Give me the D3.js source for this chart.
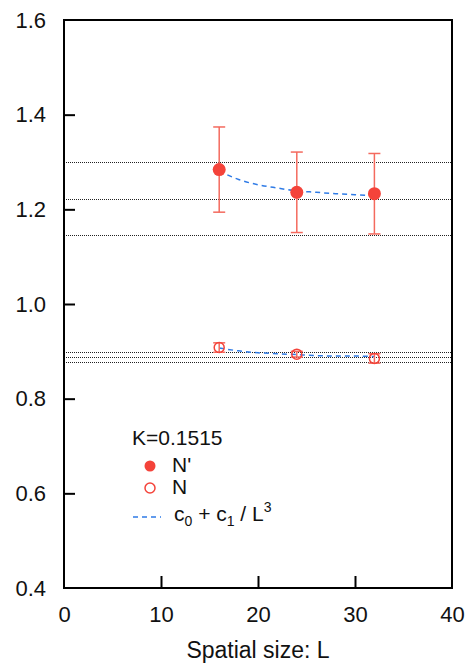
<!DOCTYPE html>
<html>
<head>
<meta charset="utf-8">
<script src="https://cdn.jsdelivr.net/npm/d3@7"></script>
<style>
  html, body { margin: 0; padding: 0; background: #fff; }
  svg { display: block; font-family: "Liberation Sans", Arial, Helvetica, sans-serif; }
</style>
</head>
<body>
<svg id="chart" width="470" height="664"></svg>
<script>
// ---- data ----
const sizesL = [16, 24, 32];
const nPrimeValues = [1.284, 1.236, 1.233];
const nPrimeErrors = [0.090, 0.085, 0.085];
const nValues = [0.908, 0.894, 0.885];
const nErrors = [0.010, 0.006, 0.010];
const fitL = [16, 18, 20, 22, 24, 26, 28, 30, 32];
const fitNPrime = [1.281, 1.263, 1.252, 1.245, 1.239, 1.236, 1.233, 1.231, 1.229];
const fitN = [0.907, 0.901, 0.897, 0.895, 0.893, 0.891, 0.890, 0.890, 0.889];
const bandNPrime = [1.300, 1.222, 1.145];
const bandN = [0.899, 0.887, 0.877];
const xTicks = [0, 10, 20, 30, 40];
const yTicks = [0.4, 0.6, 0.8, 1.0, 1.2, 1.4, 1.6];
const legendTitle = "K=0.1515";
const xTitle = "Spatial size: L";

// ---- layout ----
const svg = d3.select("#chart");
const mL = 64, mR = 452, mT = 20, mB = 588;
const x = d3.scaleLinear().domain([0, 40]).range([mL, mR]);
const y = d3.scaleLinear().domain([0.4, 1.6]).range([mB, mT]);
const red = "#f4433a", errRed = "#f46a5e", blue = "#2f7be6";

// dotted reference lines
const bands = svg.append("g");
[...bandNPrime, ...bandN].forEach(v => {
  bands.append("line")
    .attr("x1", mL + 2).attr("x2", mR - 1)
    .attr("y1", Math.round(y(v)) + 0.5).attr("y2", Math.round(y(v)) + 0.5)
    .attr("stroke", "#222").attr("stroke-width", 1)
    .attr("stroke-dasharray", "1,1");
});

// fit lines
const line = d3.line().x(d => x(d[0])).y(d => y(d[1])).curve(d3.curveMonotoneX);
[fitNPrime, fitN].forEach(arr => {
  svg.append("path")
    .attr("d", line(fitL.map((l, i) => [l, arr[i]])))
    .attr("fill", "none").attr("stroke", blue).attr("stroke-width", 1.5)
    .attr("stroke-dasharray", "5,4");
});

// error bars
function errorBars(vals, errs) {
  const g = svg.append("g").attr("stroke", errRed).attr("stroke-width", 1.5);
  sizesL.forEach((l, i) => {
    const cx = x(l);
    g.append("line").attr("x1", cx).attr("x2", cx)
      .attr("y1", y(vals[i] - errs[i])).attr("y2", y(vals[i] + errs[i]));
    [vals[i] - errs[i], vals[i] + errs[i]].forEach(v => {
      g.append("line").attr("x1", cx - 6).attr("x2", cx + 6)
        .attr("y1", y(v)).attr("y2", y(v));
    });
  });
}
errorBars(nPrimeValues, nPrimeErrors);
errorBars(nValues, nErrors);

// markers
svg.append("g").selectAll("circle").data(sizesL).join("circle")
  .attr("cx", d => x(d)).attr("cy", (d, i) => y(nPrimeValues[i]))
  .attr("r", 6.5).attr("fill", red);
svg.append("g").selectAll("circle").data(sizesL).join("circle")
  .attr("cx", d => x(d)).attr("cy", (d, i) => y(nValues[i]))
  .attr("r", 5).attr("fill", "none").attr("stroke", red).attr("stroke-width", 1.5);

// axes frame
svg.append("rect")
  .attr("x", mL).attr("y", mT).attr("width", mR - mL).attr("height", mB - mT)
  .attr("fill", "none").attr("stroke", "#000").attr("stroke-width", 2);

// y axis
const yAxis = d3.axisLeft(y).tickValues(yTicks).tickSizeInner(-11).tickSizeOuter(0)
  .tickPadding(18).tickFormat(d3.format(".1f"));
const gy = svg.append("g").attr("transform", `translate(${mL},0)`).call(yAxis);
gy.select(".domain").remove();
gy.selectAll(".tick line").attr("stroke", "#000").attr("stroke-width", 2)
  .filter(d => d === 0.4 || d === 1.6).remove();
gy.selectAll(".tick text").attr("font-size", 22).attr("fill", "#111")
  .attr("font-family", "Liberation Sans, Arial, sans-serif");

// x axis
const xAxis = d3.axisBottom(x).tickValues(xTicks).tickSizeInner(-12).tickSizeOuter(0)
  .tickPadding(18).tickFormat(d3.format("d"));
const gx = svg.append("g").attr("transform", `translate(0,${mB})`).call(xAxis);
gx.select(".domain").remove();
gx.selectAll(".tick line").attr("stroke", "#000").attr("stroke-width", 2)
  .filter(d => d === 0 || d === 40).remove();
gx.selectAll(".tick text").attr("font-size", 22).attr("fill", "#111")
  .attr("font-family", "Liberation Sans, Arial, sans-serif");

// x title
svg.append("text").attr("x", (mL + mR) / 2).attr("y", 658)
  .attr("text-anchor", "middle").attr("font-size", 23).attr("fill", "#111")
  .text(xTitle);

// legend
const lg = svg.append("g").attr("fill", "#111").attr("font-size", 21);
lg.append("text").attr("x", 132).attr("y", 445).text(legendTitle);
lg.append("circle").attr("cx", 150).attr("cy", 466).attr("r", 5.5).attr("fill", red);
lg.append("text").attr("x", 172).attr("y", 472).text("N'");
lg.append("circle").attr("cx", 150).attr("cy", 488).attr("r", 5).attr("fill", "none")
  .attr("stroke", red).attr("stroke-width", 1.5);
lg.append("text").attr("x", 172).attr("y", 494).text("N");
lg.append("line").attr("x1", 133).attr("x2", 161).attr("y1", 517).attr("y2", 517)
  .attr("stroke", blue).attr("stroke-width", 1.5).attr("stroke-dasharray", "5,4");
const ft = lg.append("text").attr("x", 174).attr("y", 521);
ft.append("tspan").text("c");
ft.append("tspan").attr("font-size", 14).attr("dy", 5).text("0");
ft.append("tspan").attr("dy", -5).text(" + c");
ft.append("tspan").attr("font-size", 14).attr("dy", 5).text("1");
ft.append("tspan").attr("dy", -5).text(" / L");
ft.append("tspan").attr("font-size", 14).attr("dy", -9).text("3");
</script>
</body>
</html>
